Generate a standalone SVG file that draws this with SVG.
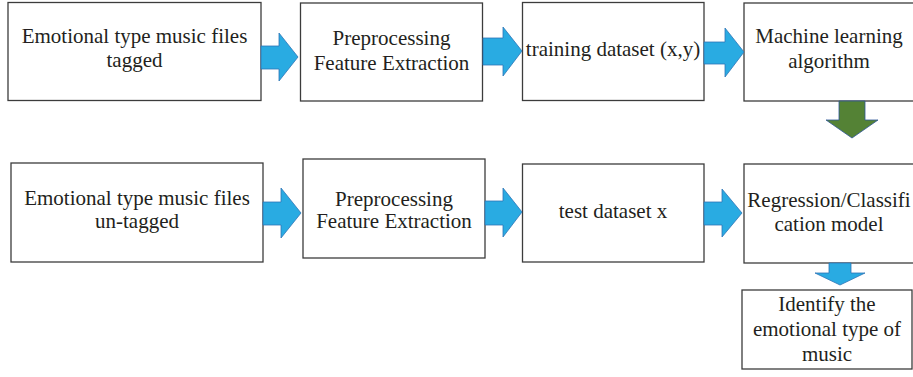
<svg xmlns="http://www.w3.org/2000/svg" width="913" height="377" viewBox="0 0 913 377">
<style>
.box{fill:#fff;stroke:#3c3c3c;stroke-width:1.3}
.t{font-family:"Liberation Serif","Times New Roman",serif;font-size:21px;fill:#231f20;text-anchor:middle}
.ab{fill:#29abe2;stroke:#2e75b6;stroke-width:0.8}
.ag{fill:#548235;stroke:#2f5597;stroke-width:0.8}
</style>
<rect width="913" height="377" fill="#fff"/>
<g id="n1"><rect class="box" x="8" y="2.5" width="253" height="98"/><text class="t" x="134.5" y="43">Emotional type music files</text><text class="t" x="134.5" y="67">tagged</text></g>
<g id="n2"><rect class="box" x="300.5" y="3" width="182" height="98"/><text class="t" x="391.5" y="45">Preprocessing</text><text class="t" x="391.5" y="70">Feature Extraction</text></g>
<g id="n3"><rect class="box" x="522.5" y="2.5" width="181.5" height="98"/><text class="t" x="613" y="56">training dataset (x,y)</text></g>
<g id="n4"><rect class="box" x="744" y="3" width="175" height="98"/><text class="t" x="829" y="43">Machine learning</text><text class="t" x="829" y="68">algorithm</text></g>
<g id="n5"><rect class="box" x="11" y="163" width="252" height="99"/><text class="t" x="137" y="205">Emotional type music files</text><text class="t" x="137" y="228">un-tagged</text></g>
<g id="n6"><rect class="box" x="303" y="159" width="182" height="99"/><text class="t" x="394" y="206">Preprocessing</text><text class="t" x="394" y="228">Feature Extraction</text></g>
<g id="n7"><rect class="box" x="522.5" y="164" width="181.5" height="98"/><text class="t" x="613" y="218">test dataset x</text></g>
<g id="n8"><rect class="box" x="744" y="164" width="175" height="99"/><text class="t" x="829" y="207">Regression/Classifi</text><text class="t" x="829" y="231">cation model</text></g>
<g id="n9"><rect class="box" x="742" y="290" width="170" height="79"/><text class="t" x="827" y="311">Identify the</text><text class="t" x="827" y="336">emotional type of</text><text class="t" x="827" y="361">music</text></g>
<g id="connectors">
<polygon class="ab" points="261,46 279,46 279,33 298,57 279,81 279,69 261,69"/>
<polygon class="ab" points="483,38 503,38 503,27 522,51 503,76 503,65 483,65"/>
<polygon class="ab" points="704,42 725,42 725,28 744,52 725,77 725,64 704,64"/>
<polygon class="ag" points="839,101 865,101 865,120 878,120 852,138 826,120 839,120"/>
<polygon class="ab" points="263,202 281,202 281,188 301,213 281,238 281,225 263,225"/>
<polygon class="ab" points="485,201 503,201 503,188 522,212 503,237 503,225 485,225"/>
<polygon class="ab" points="704,202 722,202 722,189 742,213 722,237 722,225 704,225"/>
<polygon class="ab" points="829,263 851,263 851,273 865,273 840,285 815,273 829,273"/>
</g>
</svg>
